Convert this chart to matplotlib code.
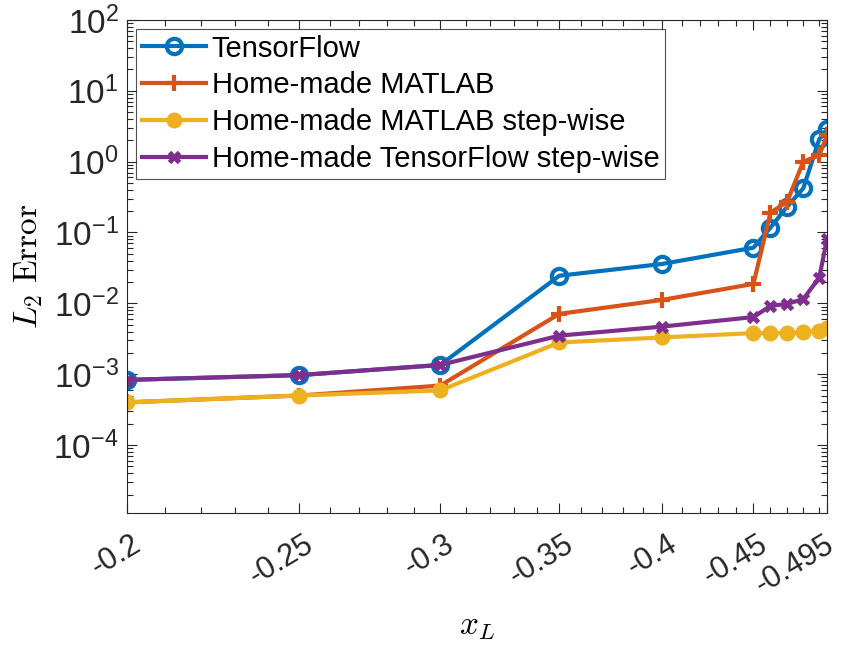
import matplotlib
matplotlib.use('Agg')
import matplotlib.pyplot as plt
import matplotlib.transforms as mtransforms
import numpy as np
from matplotlib.ticker import FixedLocator, NullFormatter

# data (x_L is plotted on a log scale of |x_L|)
x_L = [-0.2, -0.25, -0.3, -0.35, -0.4, -0.45, -0.46, -0.47, -0.48, -0.49, -0.495]
tensorflow = [8.3e-4, 9.7e-4, 1.35e-3, 0.0245, 0.036, 0.061, 0.117, 0.23, 0.42, 2.07, 2.86]
matlab = [4.0e-4, 5.0e-4, 6.9e-4, 0.0071, 0.0112, 0.0188, 0.19, 0.27, 1.0, 1.23, 2.35]
matlab_step = [4.0e-4, 5.0e-4, 5.9e-4, 0.0028, 0.0033, 0.0038, 0.0038, 0.0038, 0.0039, 0.0041, 0.0045]
tf_step = [8.3e-4, 9.7e-4, 1.35e-3, 0.0035, 0.0047, 0.0064, 0.0092, 0.0098, 0.0115, 0.023, 0.082]

xtick_vals = [-0.2, -0.25, -0.3, -0.35, -0.4, -0.45, -0.495]
xtick_labels = ['-0.2', '-0.25', '-0.3', '-0.35', '-0.4', '-0.45', '-0.495']
ytick_vals = [1e-4, 1e-3, 1e-2, 1e-1, 1e0, 1e1, 1e2]
ytick_labels = ['$\\mathregular{10^{-4}}$', '$\\mathregular{10^{-3}}$', '$\\mathregular{10^{-2}}$',
                '$\\mathregular{10^{-1}}$', '$\\mathregular{10^{0}}$', '$\\mathregular{10^{1}}$',
                '$\\mathregular{10^{2}}$']

plt.rcParams['font.family'] = ['Liberation Sans', 'DejaVu Sans']
plt.rcParams['mathtext.fontset'] = 'cm'

blue = '#0072BD'
red = '#D95319'
yellow = '#EDB120'
purple = '#7E2F8E'

fig = plt.figure(figsize=(8.43, 6.47), dpi=100)
ax = fig.add_axes([0.1507, 0.2072, 0.8304, 0.7620])

xa = np.abs(x_L)
lw = 3
ax.plot(xa, tensorflow, '-o', color=blue, lw=lw, ms=11, mfc='none', mew=3, label='TensorFlow')
ax.plot(xa, matlab, '-+', color=red, lw=lw, ms=11, mew=3, label='Home-made MATLAB')
ax.plot(xa, matlab_step, '-o', color=yellow, lw=lw, ms=10, mfc=yellow, mew=1.5,
        label='Home-made MATLAB step-wise')
ax.plot(xa, tf_step, '-x', color=purple, lw=lw, ms=7, mew=3.5, label='Home-made TensorFlow step-wise')

ax.set_xscale('log')
ax.set_yscale('log')
ax.set_xlim(0.2, 0.495)
ax.set_ylim(1.1e-5, 1e2)

ax.xaxis.set_major_locator(FixedLocator(np.abs(xtick_vals)))
ax.set_xticklabels(xtick_labels, rotation=31, ha='right', va='top', rotation_mode='anchor')
minor = [v / 100 for v in range(21, 50) if v % 5 != 0]
ax.xaxis.set_minor_locator(FixedLocator(minor))
ax.xaxis.set_minor_formatter(NullFormatter())

ax.set_yticks(ytick_vals)
ax.set_yticklabels(ytick_labels)
ax.yaxis.set_minor_formatter(NullFormatter())

ax.tick_params(which='both', direction='in', top=True, right=True, width=0.8,
               color='#262626', labelcolor='#262626')
ax.tick_params(which='major', length=7)
ax.tick_params(which='minor', length=4)
ax.tick_params(axis='x', pad=12, labelsize=22)
ax.tick_params(axis='y', pad=6, labelsize=24)
# nudge the rotated x labels a little to the right, less for the last one at the edge
for lab in ax.get_xticklabels():
    dx = 3 if lab.get_text() != '-0.495' else -2
    lab.set_transform(lab.get_transform() + mtransforms.ScaledTranslation(dx / 72, 0, fig.dpi_scale_trans))
for s in ax.spines.values():
    s.set_color('#262626')
    s.set_linewidth(0.8)

ax.set_ylabel('$L_2\\ \\mathrm{Error}$', fontsize=24, labelpad=6)
ax.set_xlabel('$x_L$', fontsize=24, labelpad=8)

leg = ax.legend(loc='upper left', fontsize=21, frameon=True, fancybox=False, edgecolor='#262626',
                handlelength=2.2, borderaxespad=0.3, labelspacing=0.3, handletextpad=0.2,
                borderpad=0.2)
leg.get_frame().set_linewidth(0.8)

fig.savefig('out.png', dpi=100)
